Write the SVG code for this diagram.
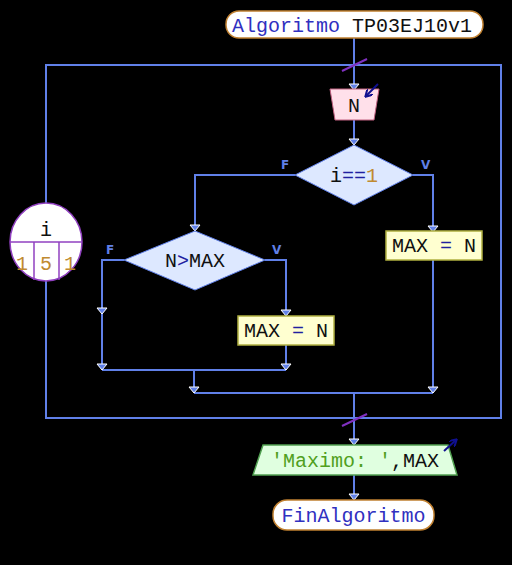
<svg xmlns="http://www.w3.org/2000/svg" width="512" height="565" viewBox="0 0 512 565">
<defs>
<style>
.ln{stroke:#6080e8;stroke-width:2;fill:none}
.t{font-family:"Liberation Mono","DejaVu Sans Mono",monospace;font-size:20px}
.kw{fill:#3030c0}
.v{fill:#101010}
.n{fill:#c08a30}
.op{fill:#2020a0}
.s{fill:#50a020}
.lbl{font-family:"DejaVu Sans","Liberation Sans",sans-serif;font-size:12px;font-weight:bold;fill:#6080e8}
.term{fill:#ffffff;stroke:#c08030;stroke-width:1.5}
.box{fill:#ffffd0;stroke:#b0b040;stroke-width:1.5}
.dia{fill:#dde8ff;stroke:#6080e8;stroke-width:1}
.slash{stroke:#8030c0;stroke-width:2}
.io{stroke:#101090;stroke-width:2;fill:none}
</style>
<path id="ah" d="M-5,-6 L5,-6 L0,0 Z" fill="#6080e8" stroke="#ffffff" stroke-width="1"/>
<marker id="io" markerWidth="8" markerHeight="8" refX="6" refY="4" orient="auto" markerUnits="userSpaceOnUse"><path d="M0,0 L7,4 L0,8" fill="none" stroke="#101090" stroke-width="2"/></marker>
</defs>
<rect width="512" height="565" fill="#000000"/>
<g id="connectors">
<path class="ln" d="M354,38 V90"/>
<path class="ln" d="M46,65 H501 V418 H46 Z"/>
<path class="ln" d="M354,120 V145"/>
<path class="ln" d="M295,175 H195 V231"/>
<path class="ln" d="M413,175 H433 V231"/>
<path class="ln" d="M124,260 H102 V370"/>
<path class="ln" d="M265,260 H286 V316"/>
<path class="ln" d="M286,345 V370"/>
<path class="ln" d="M102,370 H286"/>
<path class="ln" d="M194,370 V393"/>
<path class="ln" d="M433,260 V393"/>
<path class="ln" d="M194,393 H433"/>
<path class="ln" d="M354,393 V418"/>
<path class="ln" d="M354,418 V445"/>
<path class="ln" d="M354,475 V500"/>
<line class="slash" x1="342" y1="71" x2="367" y2="59"/>
<line class="slash" x1="342" y1="426" x2="367" y2="414"/>
<use href="#ah" x="354" y="90"/>
<use href="#ah" x="354" y="145"/>
<use href="#ah" x="195" y="231"/>
<use href="#ah" x="433" y="232"/>
<use href="#ah" x="102" y="314"/>
<use href="#ah" x="286" y="316"/>
<use href="#ah" x="102" y="370"/>
<use href="#ah" x="286" y="370"/>
<use href="#ah" x="194" y="393"/>
<use href="#ah" x="433" y="393"/>
<use href="#ah" x="354" y="445"/>
<use href="#ah" x="354" y="500"/>
<text class="lbl" x="281" y="169">F</text>
<text class="lbl" x="421" y="169">V</text>
<text class="lbl" x="106" y="254">F</text>
<text class="lbl" x="272" y="254">V</text>
</g>
<g id="start">
<rect class="term" x="226" y="11" width="257" height="27" rx="13" ry="13"/>
<text class="t" x="232" y="32"><tspan class="kw">Algoritmo</tspan><tspan class="v"> TP03EJ10v1</tspan></text>
</g>
<g id="loop">
<ellipse cx="46" cy="242" rx="36" ry="39" fill="#ffffff" stroke="#9040c0" stroke-width="1.5"/>
<line x1="10" y1="242" x2="82" y2="242" stroke="#9040c0" stroke-width="1.5"/>
<line x1="34" y1="242" x2="34" y2="280" stroke="#9040c0" stroke-width="1.5"/>
<line x1="59" y1="242" x2="59" y2="280" stroke="#9040c0" stroke-width="1.5"/>
<text class="t v" x="46" y="236" text-anchor="middle">i</text>
<text class="t n" x="22" y="270" text-anchor="middle">1</text>
<text class="t n" x="46" y="270" text-anchor="middle">5</text>
<text class="t n" x="70" y="270" text-anchor="middle">1</text>
</g>
<g id="read">
<path d="M330,89 H379 L374,120 H335 Z" fill="#ffe0ea" stroke="#c06080" stroke-width="1"/>
<text class="t v" x="354" y="112" text-anchor="middle">N</text>
<line class="io" x1="378" y1="84" x2="366" y2="96" marker-end="url(#io)"/>
</g>
<g id="cond1">
<path class="dia" d="M354,145 L413,175 L354,205 L295,175 Z"/>
<text class="t" x="354" y="182" text-anchor="middle"><tspan class="v">i</tspan><tspan class="op">==</tspan><tspan class="n">1</tspan></text>
</g>
<g id="assign1">
<rect class="box" x="386" y="231" width="96" height="29"/>
<text class="t v" x="434" y="252" text-anchor="middle">MAX <tspan class="op">=</tspan> N</text>
</g>
<g id="cond2">
<path class="dia" d="M195,231 L265,260 L195,290 L124,260 Z"/>
<text class="t v" x="195" y="267" text-anchor="middle">N<tspan class="op" fill="#5030c0">&gt;</tspan>MAX</text>
</g>
<g id="assign2">
<rect class="box" x="238" y="316" width="96" height="29"/>
<text class="t v" x="286" y="337" text-anchor="middle">MAX <tspan class="op">=</tspan> N</text>
</g>
<g id="write">
<path d="M263,445 H448 L457,475 H253 Z" fill="#e0ffe0" stroke="#50a050" stroke-width="1.5"/>
<text class="t" x="355" y="467" text-anchor="middle"><tspan class="s">'Maximo: '</tspan><tspan class="v">,MAX</tspan></text>
<line class="io" x1="444" y1="451" x2="456" y2="440" marker-end="url(#io)"/>
</g>
<g id="end">
<rect class="term" x="273" y="500" width="161" height="30" rx="14" ry="14"/>
<text class="t kw" x="353.5" y="522" text-anchor="middle">FinAlgoritmo</text>
</g>
</svg>
